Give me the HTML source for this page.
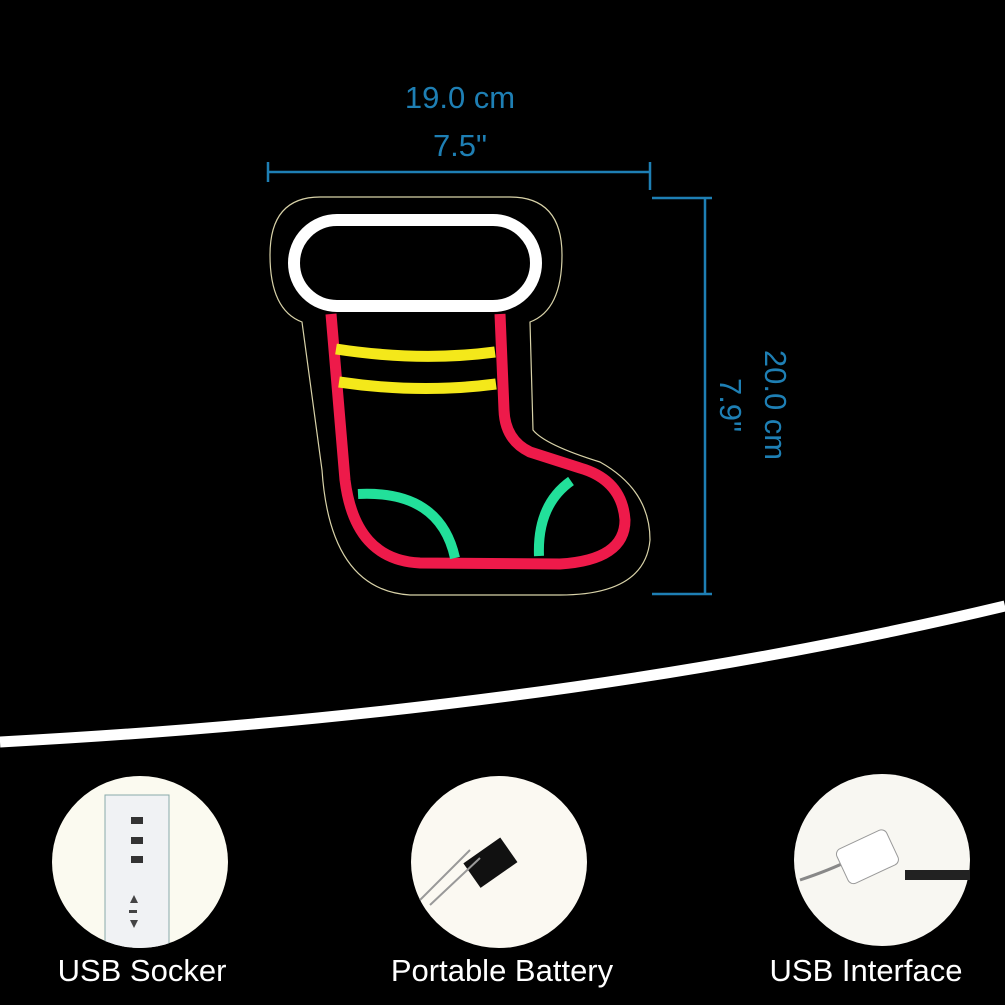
<!DOCTYPE html>
<html><head><style>
html,body{margin:0;padding:0;background:#000;}
body{width:1005px;height:1005px;overflow:hidden;position:relative;font-family:"Liberation Sans",sans-serif;}
.lbl{position:absolute;color:#fff;font-size:31px;top:953px;text-align:center;width:300px;}
</style></head><body>
<svg width="1005" height="1005" style="position:absolute;left:0;top:0">
<defs><clipPath id="c1"><ellipse cx="140" cy="862" rx="88" ry="86"/></clipPath></defs>
<path d="M0,742 Q560,712 1005,606" stroke="#fff" stroke-width="11" fill="none"/>
<g stroke="#1e7fb4" stroke-width="2.5" fill="none">
<line x1="268" y1="172" x2="650" y2="172"/><line x1="268" y1="162" x2="268" y2="182"/><line x1="650" y1="162" x2="650" y2="190"/>
<line x1="705" y1="198" x2="705" y2="594"/><line x1="652" y1="198" x2="712" y2="198"/><line x1="652" y1="594" x2="712" y2="594"/>
</g>
<text x="460" y="108" fill="#1e7fb4" font-size="31" text-anchor="middle" font-family="Liberation Sans">19.0 cm</text>
<text x="460" y="156" fill="#1e7fb4" font-size="31" text-anchor="middle" font-family="Liberation Sans">7.5"</text>
<text transform="translate(765,405) rotate(90)" fill="#1e7fb4" font-size="31" text-anchor="middle" font-family="Liberation Sans">20.0 cm</text>
<text transform="translate(720,405) rotate(90)" fill="#1e7fb4" font-size="31" text-anchor="middle" font-family="Liberation Sans">7.9"</text>
<path d="M320,197 L510,197 Q562,197 562,255 Q562,310 530,322 L533,430 Q545,445 600,462 Q650,490 650,540 Q645,595 560,595 L410,595 Q330,590 322,470 L302,322 Q270,310 270,255 Q270,197 320,197 Z" stroke="#d8d2a8" stroke-width="1.2" fill="none"/>
<rect x="294" y="220" width="242" height="86" rx="43" stroke="#fff" stroke-width="12" fill="none"/>
<path d="M331,314 L345,480 Q355,560 420,563 L560,564 Q625,560 625,520 Q622,480 580,468 L530,452 Q505,440 504,410 L500,314" stroke="#ee1a4a" stroke-width="11" fill="none"/>
<path d="M336,349 Q420,362 495,352 M339,382 Q420,394 496,384" stroke="#f4e81a" stroke-width="11" fill="none"/>
<path d="M358,494 Q440,490 455,558 M571,481 Q537,505 539,556" stroke="#22e09a" stroke-width="10" fill="none"/>
<ellipse cx="140" cy="862" rx="88" ry="86" fill="#fbfaf0"/>
<g clip-path="url(#c1)">
<rect x="105" y="795" width="64" height="160" fill="#f0f2f4" stroke="#8aa" stroke-width="1"/>
</g>
<rect x="131" y="817" width="12" height="7" fill="#333"/><rect x="131" y="837" width="12" height="7" fill="#333"/><rect x="131" y="856" width="12" height="7" fill="#333"/>
<path d="M130,903 l4,-8 l4,8z M130,920 l4,8 l4,-8z" fill="#444"/><rect x="129" y="910" width="8" height="3" fill="#444"/>
<ellipse cx="499" cy="862" rx="88" ry="86" fill="#fbf9f2"/>
<rect x="468" y="848" width="45" height="30" transform="rotate(-35 490 863)" fill="#111"/>
<path d="M420,900 L470,850 M430,905 L480,858" stroke="#999" stroke-width="2"/>
<ellipse cx="882" cy="860" rx="88" ry="86" fill="#f8f7f2"/>
<path d="M800,880 Q830,870 850,860" stroke="#888" stroke-width="3" fill="none"/>
<rect x="840" y="838" width="55" height="38" rx="6" transform="rotate(-25 867 857)" fill="#fff" stroke="#999"/>
<rect x="905" y="870" width="65" height="10" fill="#222"/>
</svg>
<div class="lbl" style="left:-8px">USB Socker</div>
<div class="lbl" style="left:352px">Portable Battery</div>
<div class="lbl" style="left:716px">USB Interface</div>
</body></html>
